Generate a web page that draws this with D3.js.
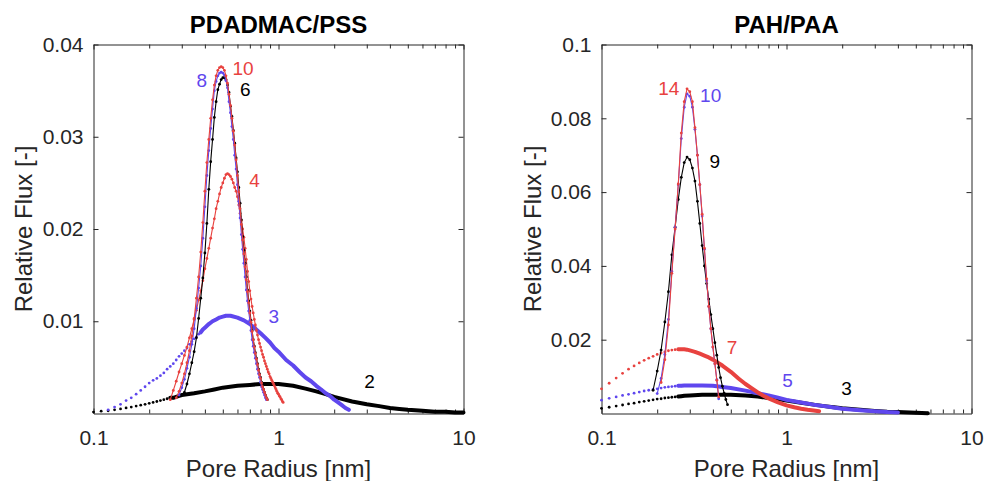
<!DOCTYPE html>
<html><head><meta charset="utf-8">
<script src="https://cdn.jsdelivr.net/npm/d3@7"></script>
<style>body{margin:0;background:#fff}svg{display:block}</style>
</head><body><svg id="c" width="985" height="481"></svg>
<script>
// ---------- data: [pore radius nm, relative flux] ----------
const pss10=[[0.28,.0017],[0.29,.0024],[0.30,.0033],[0.31,.0043],[0.32,.0055],[0.33,.0068],[0.34,.0084],[0.35,.0103],[0.36,.0125],[0.37,.0148],[0.38,.0175],[0.39,.0207],[0.40,.0241],[0.41,.0272],[0.42,.0297],[0.43,.0320],[0.44,.0340],[0.45,.0356],[0.46,.0366],[0.47,.0372],[0.48,.0375],[0.49,.0376],[0.50,.0375],[0.51,.0372],[0.52,.0366],[0.53,.0358],[0.54,.0346],[0.55,.0334],[0.56,.0320],[0.57,.0306],[0.58,.0291],[0.59,.0275],[0.60,.0258],[0.61,.0240],[0.62,.0222],[0.63,.0205],[0.64,.0188],[0.65,.0173],[0.66,.0159],[0.67,.0145],[0.68,.0132],[0.69,.0120],[0.70,.0109],[0.71,.0099],[0.72,.0089],[0.73,.0080],[0.74,.0072],[0.75,.0065],[0.76,.0059],[0.77,.0053],[0.78,.0047],[0.79,.0042],[0.80,.0038],[0.81,.0033],[0.82,.0029],[0.83,.0026],[0.84,.0023],[0.85,.0020],[0.86,.0017],[0.87,.0015]];
const pss8=[[0.29,.0020],[0.30,.0028],[0.31,.0037],[0.32,.0049],[0.33,.0061],[0.34,.0075],[0.35,.0092],[0.36,.0114],[0.37,.0136],[0.38,.0160],[0.39,.0190],[0.40,.0224],[0.41,.0258],[0.42,.0285],[0.43,.0309],[0.44,.0330],[0.45,.0350],[0.46,.0360],[0.47,.0366],[0.48,.0369],[0.49,.0370],[0.50,.0369],[0.51,.0367],[0.52,.0361],[0.53,.0353],[0.54,.0338],[0.55,.0326],[0.56,.0311],[0.57,.0297],[0.58,.0280],[0.59,.0265],[0.60,.0248],[0.61,.0230],[0.62,.0212],[0.63,.0194],[0.64,.0178],[0.65,.0163],[0.66,.0148],[0.67,.0134],[0.68,.0122],[0.69,.0111],[0.70,.0101],[0.71,.0090],[0.72,.0080],[0.73,.0073],[0.74,.0066],[0.75,.0060],[0.76,.0054],[0.77,.0048],[0.78,.0043],[0.79,.0039],[0.80,.0034],[0.81,.0029],[0.82,.0026],[0.83,.0023],[0.84,.0020],[0.85,.0017],[0.86,.0015]];
const pss6=[[0.31,.0023],[0.32,.0032],[0.33,.0043],[0.34,.0055],[0.35,.0067],[0.36,.0082],[0.37,.0103],[0.38,.0125],[0.39,.0147],[0.40,.0174],[0.41,.0206],[0.42,.0243],[0.43,.0273],[0.44,.0297],[0.45,.0321],[0.46,.0338],[0.47,.0351],[0.48,.0357],[0.49,.0362],[0.50,.0364],[0.51,.0364],[0.52,.0362],[0.53,.0356],[0.54,.0348],[0.55,.0333],[0.56,.0322],[0.57,.0307],[0.58,.0293],[0.59,.0277],[0.60,.0262],[0.61,.0245],[0.62,.0228],[0.63,.0210],[0.64,.0192],[0.65,.0177],[0.66,.0163],[0.67,.0148],[0.68,.0134],[0.69,.0122],[0.70,.0111],[0.71,.0101],[0.72,.0090],[0.73,.0080],[0.74,.0073],[0.75,.0066],[0.76,.0060],[0.77,.0054],[0.78,.0048],[0.79,.0043],[0.80,.0039],[0.81,.0034],[0.82,.0029],[0.83,.0026],[0.84,.0023],[0.85,.0020],[0.86,.0017],[0.87,.0015]];
const pss4=[[0.26,.0015],[0.27,.0025],[0.28,.0035],[0.29,.0045],[0.30,.0054],[0.31,.0063],[0.32,.0072],[0.33,.0082],[0.34,.0092],[0.35,.0102],[0.36,.0112],[0.37,.0123],[0.38,.0133],[0.39,.0144],[0.40,.0157],[0.41,.0168],[0.42,.0179],[0.43,.0190],[0.44,.0201],[0.45,.0211],[0.46,.0222],[0.47,.0230],[0.48,.0238],[0.49,.0245],[0.50,.0250],[0.51,.0255],[0.52,.0259],[0.53,.0260],[0.54,.0259],[0.55,.0257],[0.56,.0254],[0.57,.0250],[0.58,.0245],[0.59,.0241],[0.60,.0235],[0.61,.0226],[0.62,.0217],[0.63,.0209],[0.64,.0200],[0.65,.0191],[0.66,.0179],[0.67,.0167],[0.68,.0154],[0.69,.0143],[0.70,.0133],[0.71,.0124],[0.72,.0116],[0.73,.0109],[0.74,.0102],[0.75,.0096],[0.76,.0090],[0.77,.0085],[0.78,.0080],[0.79,.0076],[0.80,.0072],[0.81,.0068],[0.82,.0064],[0.83,.0061],[0.84,.0057],[0.85,.0054],[0.86,.0051],[0.87,.0048],[0.88,.0045],[0.89,.0043],[0.90,.0040],[0.91,.0038],[0.92,.0036],[0.93,.0034],[0.94,.0032],[0.95,.0030],[0.96,.0028],[0.97,.0026],[0.98,.0024],[0.99,.0022],[1.00,.0021],[1.01,.0019],[1.02,.0018],[1.03,.0016],[1.04,.0015],[1.05,.0013],[1.06,.0012]];
const pss3=[[0.12,.0004],[0.13,.0007],[0.14,.0010],[0.15,.0014],[0.16,.0017],[0.17,.0021],[0.18,.0025],[0.19,.0029],[0.20,.0033],[0.21,.0036],[0.22,.0038],[0.23,.0041],[0.24,.0044],[0.25,.0048],[0.26,.0051],[0.27,.0054],[0.28,.0058],[0.29,.0062],[0.30,.0065],[0.31,.0068],[0.32,.0071],[0.33,.0075],[0.34,.0078],[0.35,.0081],[0.36,.0083],[0.37,.0086],[0.38,.0088],[0.39,.0091],[0.40,.0093],[0.42,.0097],[0.44,.0100],[0.46,.0102],[0.48,.0104],[0.50,.0105],[0.52,.0106],[0.55,.0106],[0.60,.0104],[0.65,.0101],[0.70,.0097],[0.75,.0092],[0.80,.0087],[0.85,.0082],[0.90,.0077],[0.95,.0071],[1.0,.0067],[1.1,.0058],[1.2,.0052],[1.3,.0045],[1.4,.0039],[1.5,.0035],[1.6,.0030],[1.7,.0026],[1.8,.0022],[1.9,.0019],[2.0,.0015],[2.1,.0012],[2.2,.0009],[2.3,.0006],[2.4,.0004]];
const pss2=[[0.10,.00015],[0.11,.00025],[0.12,.0003],[0.13,.0004],[0.14,.0005],[0.15,.0006],[0.16,.0007],[0.17,.0008],[0.18,.0009],[0.19,.0010],[0.20,.0011],[0.21,.0012],[0.22,.0013],[0.23,.0014],[0.24,.0015],[0.25,.0016],[0.26,.0017],[0.27,.0017],[0.28,.0018],[0.29,.0019],[0.30,.0020],[0.35,.0022],[0.40,.0024],[0.45,.0026],[0.50,.0028],[0.60,.0030],[0.70,.0031],[0.80,.0032],[0.90,.0032],[1.0,.0032],[1.2,.0030],[1.4,.0027],[1.6,.0024],[1.8,.0021],[2.0,.0018],[2.5,.0013],[3.0,.0010],[3.5,.0008],[4.0,.0006],[4.5,.0005],[5.0,.0004],[6.0,.0003],[7.0,.0002],[8.0,.0002],[9.0,.0001],[10.0,.0001]];

const paa14=[[0.21,.0084],[0.22,.0146],[0.23,.0240],[0.24,.0380],[0.25,.0500],[0.26,.0622],[0.27,.0760],[0.28,.0845],[0.29,.0880],[0.30,.0872],[0.31,.0845],[0.32,.0775],[0.33,.0700],[0.34,.0620],[0.35,.0540],[0.36,.0448],[0.37,.0365],[0.38,.0290],[0.39,.0230],[0.40,.0180],[0.41,.0135],[0.42,.0090],[0.43,.0045]];
const paa10=[[0.20,.0054],[0.21,.0095],[0.22,.0160],[0.23,.0255],[0.24,.0385],[0.25,.0505],[0.26,.0620],[0.27,.0745],[0.28,.0830],[0.29,.0866],[0.30,.0860],[0.31,.0830],[0.32,.0770],[0.33,.0700],[0.34,.0620],[0.35,.0535],[0.36,.0445],[0.37,.0360],[0.38,.0290],[0.39,.0230],[0.40,.0180],[0.41,.0135],[0.42,.0092],[0.43,.0040]];
const paa9=[[0.19,.0063],[0.20,.0115],[0.21,.0172],[0.22,.0248],[0.23,.0330],[0.24,.0430],[0.25,.0505],[0.26,.0580],[0.27,.0640],[0.28,.0680],[0.29,.0695],[0.30,.0688],[0.31,.0665],[0.32,.0630],[0.33,.0575],[0.34,.0515],[0.35,.0455],[0.36,.0400],[0.37,.0352],[0.38,.0310],[0.39,.0268],[0.40,.0230],[0.41,.0192],[0.42,.0158],[0.43,.0125],[0.44,.0097],[0.45,.0074],[0.46,.0055],[0.47,.0038],[0.48,.0024]];
const paa7=[[0.10,.0067],[0.11,.0082],[0.12,.0096],[0.13,.0109],[0.14,.0120],[0.15,.0129],[0.16,.0137],[0.17,.0144],[0.18,.0150],[0.19,.0155],[0.20,.0160],[0.21,.0164],[0.22,.0167],[0.23,.0170],[0.24,.0172],[0.25,.0173],[0.26,.0174],[0.27,.0174],[0.28,.0174],[0.29,.0173],[0.30,.0171],[0.32,.0167],[0.34,.0162],[0.36,.0157],[0.38,.0152],[0.40,.0146],[0.45,.0130],[0.50,.0113],[0.55,.0095],[0.60,.0080],[0.65,.0068],[0.70,.0057],[0.75,.0048],[0.80,.0041],[0.90,.0030],[1.0,.0022],[1.1,.0017],[1.2,.0013],[1.3,.0010],[1.4,.0008],[1.5,.0006]];
const paa5=[[0.10,.0036],[0.11,.0041],[0.12,.0045],[0.13,.0049],[0.14,.0052],[0.15,.0055],[0.16,.0058],[0.17,.0061],[0.18,.0063],[0.19,.0065],[0.20,.0067],[0.21,.0069],[0.22,.0071],[0.23,.0072],[0.24,.0073],[0.25,.0074],[0.26,.0075],[0.27,.0075],[0.28,.0076],[0.30,.0076],[0.35,.0076],[0.40,.0075],[0.45,.0072],[0.50,.0069],[0.60,.0062],[0.70,.0055],[0.80,.0049],[0.90,.0043],[1.0,.0037],[1.2,.0030],[1.4,.0024],[1.6,.0020],[1.8,.0016],[2.0,.0013],[2.5,.0009],[3.0,.0006],[3.5,.0004],[4.0,.0003]];
const paa3=[[0.10,.0014],[0.11,.0017],[0.12,.0020],[0.13,.0023],[0.14,.0026],[0.15,.0028],[0.16,.0031],[0.17,.0033],[0.18,.0035],[0.19,.0037],[0.20,.0039],[0.21,.0040],[0.22,.0042],[0.23,.0043],[0.24,.0044],[0.25,.0045],[0.26,.0046],[0.27,.0047],[0.28,.0048],[0.30,.0049],[0.35,.0051],[0.40,.0051],[0.45,.0051],[0.50,.0051],[0.60,.0049],[0.70,.0046],[0.80,.0042],[0.90,.0039],[1.0,.0035],[1.2,.0029],[1.4,.0024],[1.6,.0020],[1.8,.0017],[2.0,.0014],[2.5,.0010],[3.0,.0007],[3.5,.0005],[4.0,.0004],[5.0,.0002],[5.8,.0001]];

// curve annotations: [text, radius, flux]
const labelsL=[["8",0.385,0.0354],["10",0.643,0.0367],["6",0.661,0.0344],["4",0.743,0.0246],["3",0.944,0.00985],["2",3.11,0.0028]];
const labelsR=[["14",0.231,0.0863],["10",0.389,0.0843],["9",0.409,0.0666],["7",0.508,0.0162],["5",1.013,0.0073],["3",2.11,0.0051]];

const xTicks=[0.1,1,10], xTickLabels=["0.1","1","10"];
const xMinor=[0.2,0.3,0.4,0.5,0.6,0.7,0.8,0.9,2,3,4,5,6,7,8,9];
const yTicksL=[0.01,0.02,0.03,0.04], yTickLabelsL=["0.01","0.02","0.03","0.04"];
const yTicksR=[0.02,0.04,0.06,0.08,0.1], yTickLabelsR=["0.02","0.04","0.06","0.08","0.1"];

// ---------- styles ----------
const RED="#e8423f", BLUE="#5f47ee", BLACK="#000000", AX="#262626";
const FONT='"Liberation Sans", Arial, Helvetica, sans-serif';
const TOP=44.5, BOT=413.5, WID=370;

const panels=[
 {title:"PDADMAC/PSS", x0:93.5, yMax:0.04, yTicks:yTicksL, yLab:yTickLabelsL,
  broad:[[pss2,BLACK],[pss3,BLUE]], narrow:[[pss4,RED],[pss6,BLACK],[pss8,BLUE],[pss10,RED]],
  labels:labelsL, labelColors:[BLUE,RED,BLACK,RED,BLUE,BLACK], ylabX:32},
 {title:"PAH/PAA", x0:601.5, yMax:0.1, yTicks:yTicksR, yLab:yTickLabelsR,
  broad:[[paa3,BLACK],[paa5,BLUE],[paa7,RED]], narrow:[[paa9,BLACK],[paa10,BLUE],[paa14,RED]],
  labels:labelsR, labelColors:[RED,BLUE,BLACK,RED,BLUE,BLACK], ylabX:541}
];

const svg=d3.select("#c");
const allX=xTicks.concat(xMinor);

panels.forEach(p=>{
  const x=d3.scaleLog().domain([0.1,10]).range([p.x0,p.x0+WID]);
  const y=d3.scaleLinear().domain([0,p.yMax]).range([BOT,TOP]);
  const g=svg.append("g");

  const style=sel=>{
    sel.select(".domain").attr("stroke",AX).attr("stroke-width",1);
    sel.selectAll(".tick line").attr("stroke",AX).attr("stroke-width",1);
    sel.selectAll(".tick text").attr("fill",AX).style("font-family",FONT).style("font-size","21px");
  };
  const isMajor=d=>xTicks.indexOf(d)>=0;

  const bx=g.append("g").attr("transform",`translate(0,${BOT})`)
    .call(d3.axisBottom(x).tickValues(allX).tickFormat(d=>{const i=xTicks.indexOf(d);return i>=0?xTickLabels[i]:"";})
      .tickSizeInner(-5).tickSizeOuter(0).tickPadding(17));
  bx.selectAll(".tick line").attr("y2",d=>isMajor(d)?-5:-4);
  style(bx);
  const tx=g.append("g").attr("transform",`translate(0,${TOP})`)
    .call(d3.axisTop(x).tickValues(allX).tickFormat("").tickSizeInner(-5).tickSizeOuter(0));
  tx.selectAll(".tick line").attr("y2",d=>isMajor(d)?5:4);
  style(tx);
  const ly=g.append("g").attr("transform",`translate(${p.x0},0)`)
    .call(d3.axisLeft(y).tickValues(p.yTicks).tickFormat((d,i)=>p.yLab[i]).tickSizeInner(-5).tickSizeOuter(0).tickPadding(10));
  style(ly);
  const ry=g.append("g").attr("transform",`translate(${p.x0+WID},0)`)
    .call(d3.axisRight(y).tickValues(p.yTicks).tickFormat("").tickSizeInner(-5).tickSizeOuter(0));
  style(ry);

  // broad distributions: sample markers (0.01 nm sampling) merge into a thick trace where they crowd
  const dense=(d,i,arr)=>{
    const dx=x(d[0]+0.01)-x(d[0]);
    const a=arr[Math.max(0,i-1)], b=arr[Math.min(arr.length-1,i+1)];
    const s=(y(b[1])-y(a[1]))/(x(b[0])-x(a[0]));
    return dx*Math.sqrt(1+s*s)<3.1;
  };
  p.broad.forEach(([data,col])=>{
    g.append("g").selectAll("circle").data(data).join("circle")
      .attr("cx",d=>x(d[0])).attr("cy",d=>y(d[1])).attr("r",1.4).attr("fill",col);
    g.append("path").datum(data)
      .attr("d",d3.line().defined((d,i)=>dense(d,i,data)).x(d=>x(d[0])).y(d=>y(d[1])))
      .attr("fill","none").attr("stroke",col).attr("stroke-width",4)
      .attr("stroke-linecap","round").attr("stroke-linejoin","round");
  });
  // narrow distributions: line + markers
  p.narrow.forEach(([data,col])=>{
    g.append("path").datum(data)
      .attr("d",d3.line().x(d=>x(d[0])).y(d=>y(d[1])))
      .attr("fill","none").attr("stroke",col).attr("stroke-width",1.1);
    g.append("g").selectAll("circle").data(data).join("circle")
      .attr("cx",d=>x(d[0])).attr("cy",d=>y(d[1])).attr("r",1.4).attr("fill",col);
  });
  // annotations
  g.append("g").selectAll("text").data(p.labels).join("text")
    .attr("x",d=>x(d[1])).attr("y",d=>y(d[2])).attr("text-anchor","middle")
    .attr("fill",(d,i)=>p.labelColors[i]).style("font-family",FONT).style("font-size","19px")
    .text(d=>d[0]);

  // titles and axis labels
  g.append("text").attr("x",p.x0+WID/2).attr("y",33).attr("text-anchor","middle")
    .style("font-family",FONT).style("font-size","24px").style("font-weight","bold").attr("fill","#000").text(p.title);
  g.append("text").attr("x",p.x0+WID/2).attr("y",477).attr("text-anchor","middle")
    .style("font-family",FONT).style("font-size","24px").attr("fill",AX).text("Pore Radius [nm]");
  g.append("text").attr("transform",`translate(${p.ylabX},${(TOP+BOT)/2}) rotate(-90)`).attr("text-anchor","middle")
    .style("font-family",FONT).style("font-size","24px").attr("fill",AX).text("Relative Flux [-]");
});
</script></body></html>
